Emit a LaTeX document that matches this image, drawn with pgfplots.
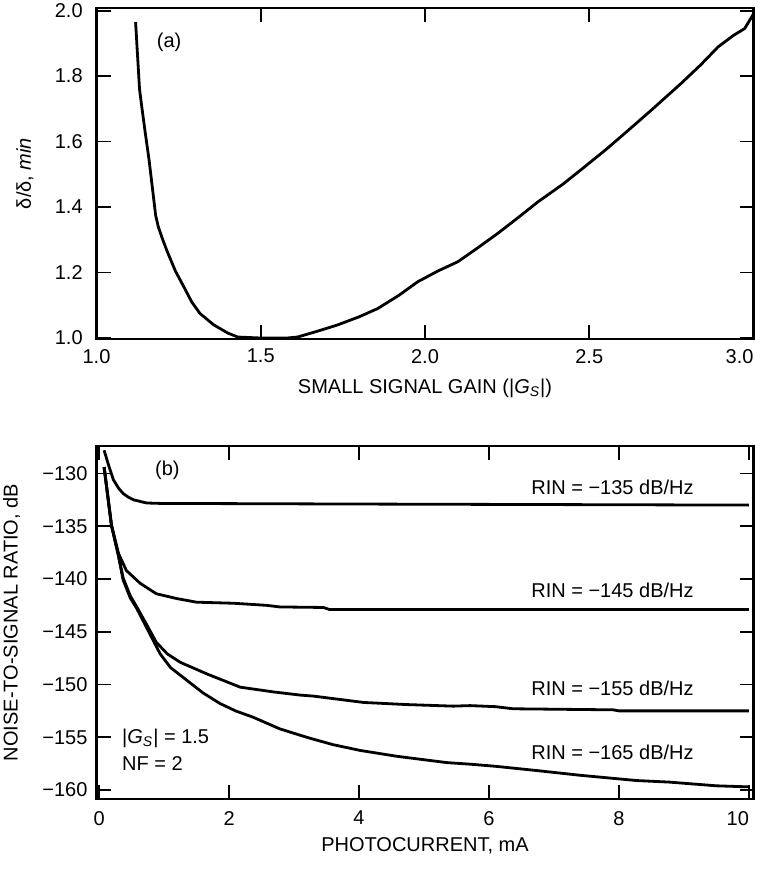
\documentclass[border=0pt]{standalone}
\usepackage{fontspec}
\setmainfont{Liberation Sans}
\usepackage{pgfplots}
\pgfplotsset{compat=1.18}
\begin{document}
\begin{tikzpicture}[x=1pt,y=1pt]
\pgfplotsset{
  common/.style={
    scale only axis, width=328.5pt,
    axis line style={line width=1.2pt},
    tick align=inside, major tick length=7pt,
    tick style={line width=0.9pt, black},
    minor tick num=0,
    label style={font=\fontsize{10}{12}\selectfont},
    ticklabel style={font=\fontsize{10}{12}\selectfont},
  },
  curve/.style={black, line width=1.4pt, mark=none, line join=round},
}
% ---------------- panel (a)
\begin{axis}[common,
  at={(48.25pt,-169.5pt)}, anchor=south west, height=165.5pt,
  xmin=1, xmax=3, ymin=0.997, ymax=2.008,
  xtick={1,1.5,2,2.5,3}, xticklabels={1.0,1.5,2.0,2.5,\makebox[0pt][r]{3.0}},
  ytick={1,1.2,1.4,1.6,1.8,2}, yticklabels={1.0,1.2,1.4,1.6,1.8,2.0},
  xticklabel style={yshift=-1.5pt},
  yticklabel style={xshift=-3.4pt},
  xlabel={SMALL SIGNAL GAIN (|\textit{G}\textsubscript{\textit{S}}|)},
  ylabel={δ/δ, \textit{min}},
  xlabel style={at={(axis description cs:0.5,-0.150)},anchor=center},
  ylabel style={at={(axis description cs:-0.109,0.5)},anchor=center,rotate=0},
]
\addplot[curve] coordinates {
(1.119,1.965) (1.124,1.879) (1.131,1.760) (1.138,1.705) (1.148,1.630)
(1.160,1.544) (1.170,1.460) (1.180,1.375) (1.188,1.340) (1.200,1.305)
(1.215,1.265) (1.240,1.205) (1.266,1.156) (1.290,1.110) (1.315,1.075)
(1.357,1.040) (1.400,1.015) (1.430,1.003) (1.500,1.000) (1.580,1.000)
(1.612,1.003) (1.670,1.020) (1.734,1.040) (1.800,1.065) (1.856,1.090)
(1.920,1.130) (1.978,1.172) (2.040,1.205) (2.100,1.233) (2.160,1.275)
(2.222,1.320) (2.280,1.365) (2.344,1.416) (2.420,1.470) (2.486,1.523)
(2.550,1.575) (2.608,1.625) (2.689,1.696) (2.780,1.778) (2.840,1.835)
(2.892,1.889) (2.940,1.925) (2.973,1.945) (3.000,1.990)
};
\node[font=\fontsize{10}{12}\selectfont] at (axis cs:1.221,1.902) {(a)};
\end{axis}
% ---------------- panel (b)
\begin{axis}[common,
  at={(48.25pt,-399.5pt)}, anchor=south west, height=176.5pt,
  xmin=-0.04, xmax=10.07, ymin=-160.85, ymax=-127.4,
  xtick={0,2,4,6,8,10},
  xticklabels={0,2,4,6,8,\makebox[0pt][r]{10}},
  ytick={-160,-155,-150,-145,-140,-135,-130},
  yticklabels={−160,−155,−150,−145,−140,−135,−130},
  xticklabel style={yshift=-2.5pt},
  yticklabel style={xshift=-1pt},
  xlabel={PHOTOCURRENT, mA},
  ylabel={NOISE-TO-SIGNAL RATIO, dB},
  xlabel style={at={(axis description cs:0.5,-0.133)},anchor=center},
  ylabel style={at={(axis description cs:-0.129,0.5)},anchor=center,rotate=0},
]
% RIN = -135
\addplot[curve] coordinates {
(0.077,-127.8) (0.15,-129.3) (0.22,-130.6) (0.30,-131.4) (0.37,-131.9)
(0.45,-132.25) (0.53,-132.5) (0.73,-132.8) (1.0,-132.85) (1.5,-132.85)
(4,-132.9) (7,-132.95) (10,-133.0)
};
% RIN = -145
\addplot[curve] coordinates {
(0.077,-129.4) (0.19,-134.9) (0.30,-137.6) (0.42,-139.2) (0.63,-140.4)
(0.88,-141.4) (1.19,-141.85) (1.5,-142.2) (2.07,-142.3) (2.58,-142.5)
(2.78,-142.65) (3.45,-142.7) (3.55,-142.9) (6,-142.9) (10,-142.9)
};
% RIN = -155
\addplot[curve] coordinates {
(0.077,-129.4) (0.19,-134.9) (0.30,-137.8) (0.37,-139.9) (0.48,-141.6)
(0.58,-142.65) (0.73,-144.3) (0.88,-146.0) (1.05,-147.1) (1.25,-147.9)
(1.66,-149.0) (2.17,-150.25) (2.68,-150.7) (3.09,-151.0) (3.3,-151.1)
(4.07,-151.7) (4.73,-151.9) (5.45,-152.05) (5.71,-152.0) (6.1,-152.1)
(6.37,-152.3) (7.91,-152.4) (8.0,-152.5) (10,-152.5)
};
% RIN = -165
\addplot[curve] coordinates {
(0.077,-129.4) (0.19,-134.9) (0.30,-137.9) (0.37,-140.1) (0.48,-141.8)
(0.58,-142.8) (0.73,-144.6) (0.94,-147.1) (1.10,-148.4) (1.35,-149.6)
(1.60,-150.8) (1.86,-151.8) (2.1,-152.5) (2.37,-153.1) (2.78,-154.2)
(3.09,-154.8) (3.25,-155.1) (3.6,-155.7) (4.02,-156.25) (4.58,-156.8)
(5.35,-157.4) (5.71,-157.55) (6.1,-157.75) (6.73,-158.15) (7.4,-158.6)
(8.27,-159.1) (8.78,-159.25) (9.5,-159.6) (10,-159.7)
};
\begin{scope}[every node/.style={font=\fontsize{10}{12}\selectfont}]
\node at (axis cs:1.05,-129.7) {(b)};
\node at (axis cs:7.9,-131.3) {RIN = −135 dB/Hz};
\node at (axis cs:7.9,-141.1) {RIN = −145 dB/Hz};
\node at (axis cs:7.9,-150.4) {RIN = −155 dB/Hz};
\node at (axis cs:7.9,-156.4) {RIN = −165 dB/Hz};
\node[anchor=west,inner sep=0pt] at (axis cs:0.35,-155.1) {|\textit{G}\textsubscript{\textit{S}}| = 1.5};
\node[anchor=west,inner sep=0pt] at (axis cs:0.35,-157.5) {NF = 2};
\end{scope}
\end{axis}
\pgfresetboundingbox
\path[use as bounding box] (0,0) rectangle (378.5pt,-435pt);
\end{tikzpicture}
\end{document}
